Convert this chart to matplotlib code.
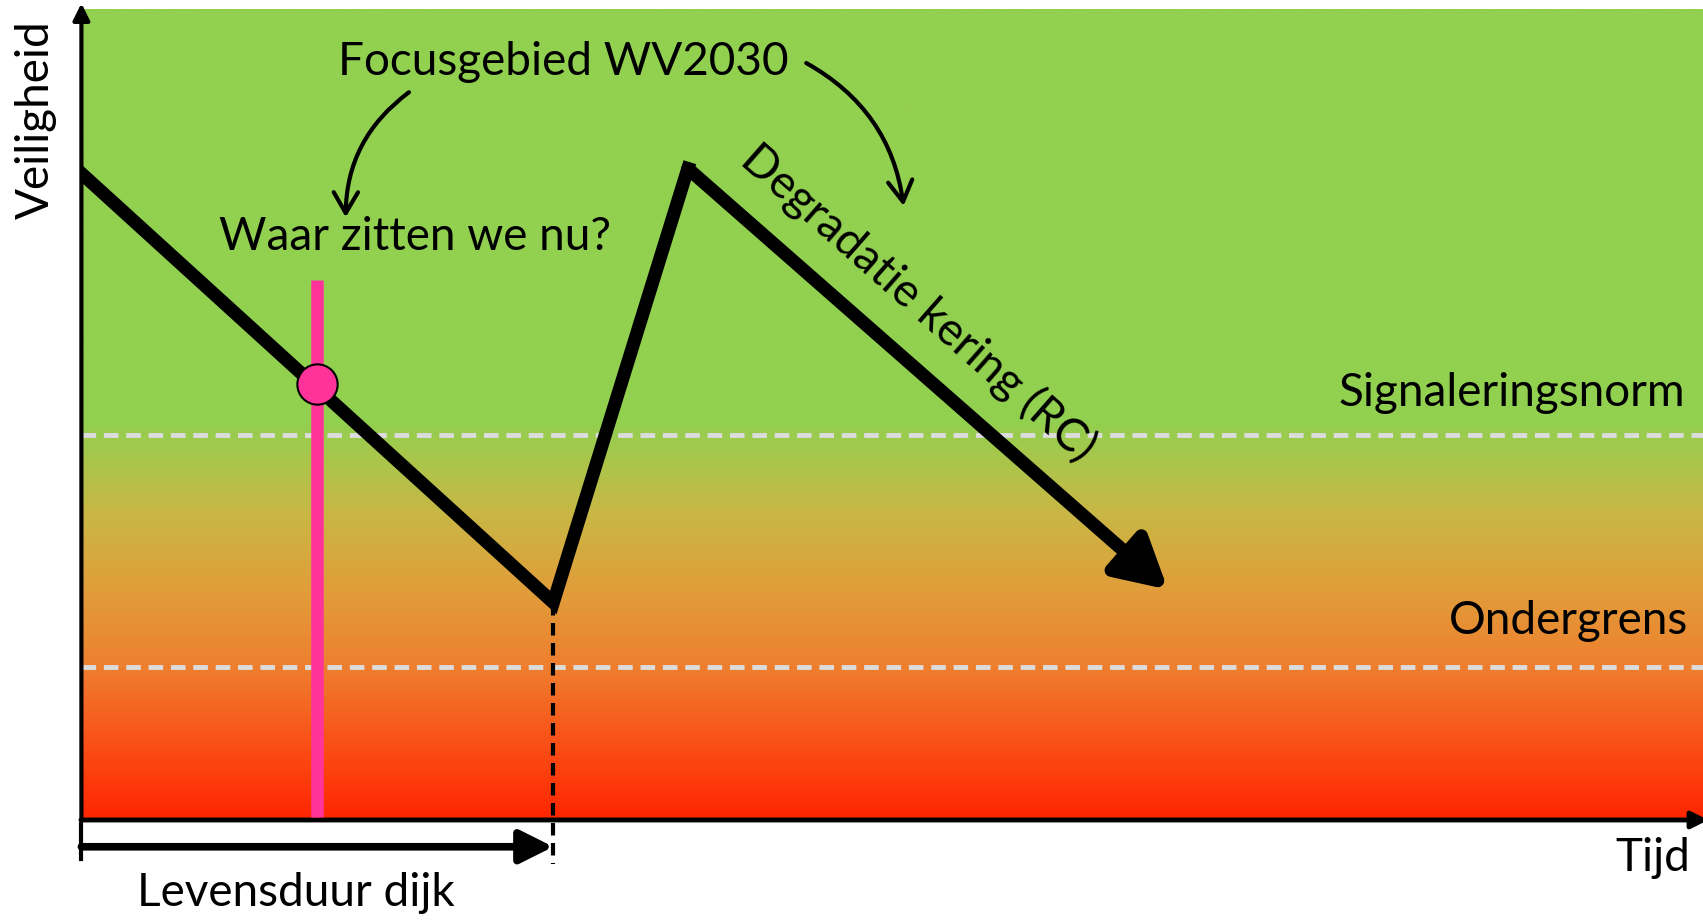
import numpy as np
import matplotlib.pyplot as plt
from matplotlib.colors import LinearSegmentedColormap

plt.rcParams['font.family'] = ['Lato', 'DejaVu Sans']

# levensloop van de kering (tijd, veiligheid) in 0-100 schaal
tijd = [0, 29.1, 37.4]
veiligheid = [79.7, 26.8, 80.3]
pijl_eind = (67.0, 28.4)

signaleringsnorm = 47.5
ondergrens = 18.9
nu_tijd = 14.5
nu_veiligheid = 53.8
levensduur = 29.1

# kleurverloop van rood (onder) naar groen (boven)
kleur_pos = [0.0, 0.08, 0.19, 0.28, 0.38, 0.49, 1.0]
kleuren = ['#ff2600', '#fb4a14', '#ee8030', '#e19d3a', '#c8b845', '#92d050', '#92d050']

fig = plt.figure(figsize=(17.03, 9.23), dpi=100)
ax = fig.add_axes([0.0478, 0.1116, 0.9522, 0.879])
ax.set_xlim(0, 100)
ax.set_ylim(0, 100)
ax.axis('off')

cmap = LinearSegmentedColormap.from_list('veilig', list(zip(kleur_pos, kleuren)))
grad = np.linspace(0, 1, 400).reshape(-1, 1)
ax.imshow(grad, extent=[0, 100, 0, 100], origin='lower', aspect='auto', cmap=cmap, zorder=0)

# normlijnen
for y in [signaleringsnorm, ondergrens]:
    ax.plot([0, 100], [y, y], color='#dcdcdc', lw=3.5, dashes=(3.0, 1.6), zorder=1)

# assen met pijlen
ax.annotate('', xy=(0, 101), xytext=(0, -0.3), annotation_clip=False,
            arrowprops=dict(arrowstyle='-|>', lw=3, color='black', mutation_scale=25))
ax.annotate('', xy=(100.5, 0), xytext=(-0.2, 0), annotation_clip=False,
            arrowprops=dict(arrowstyle='-|>', lw=3.5, color='black', mutation_scale=25))

# roze lijn + punt: waar zitten we nu
ax.plot([nu_tijd, nu_tijd], [0.4, 66.5], color='#ff3399', lw=9, solid_capstyle='butt', zorder=3)
ax.plot(nu_tijd, nu_veiligheid, 'o', ms=29, mfc='#ff3399', mec='black', mew=1.5, zorder=5)

# veiligheidslijn
ax.plot(tijd, veiligheid, color='black', lw=9.5, solid_joinstyle='miter', zorder=4)
ax.annotate('', xy=pijl_eind, xytext=(tijd[-1], veiligheid[-1]),
            arrowprops=dict(arrowstyle='-|>,head_length=1.0,head_width=0.55', lw=9.5,
                            color='black', mutation_scale=30, shrinkA=0, shrinkB=0,
                            joinstyle='round'), zorder=4)

# levensduur
ax.plot([levensduur, levensduur], [veiligheid[1], -5.4], color='black', lw=3,
        dashes=(3, 1.8), clip_on=False, zorder=4)
ax.annotate('', xy=(levensduur, -3.3), xytext=(0, -3.3), annotation_clip=False,
            arrowprops=dict(arrowstyle='-|>,head_length=0.8,head_width=0.4', lw=5.5,
                            color='black', mutation_scale=25, shrinkA=0, shrinkB=0))
ax.plot([0, 0], [-0.5, -4.8], color='black', lw=3, clip_on=False)

# gebogen pijlen
ax.annotate('', xy=(16.3, 74.3), xytext=(20.2, 89.7),
            arrowprops=dict(arrowstyle='->,head_length=0.6,head_width=0.35', lw=3,
                            color='black', mutation_scale=25,
                            connectionstyle='arc3,rad=0.25', shrinkA=0, shrinkB=0))
ax.annotate('', xy=(50.7, 75.7), xytext=(44.7, 93.3),
            arrowprops=dict(arrowstyle='->,head_length=0.6,head_width=0.35', lw=3,
                            color='black', mutation_scale=25,
                            connectionstyle='arc3,rad=-0.25', shrinkA=0, shrinkB=0))

fs = 33
ax.text(29.7, 93.4, 'Focusgebied WV2030', fontsize=fs, ha='center', va='center')
ax.text(20.6, 71.9, 'Waar zitten we nu?', fontsize=fs, ha='center', va='center')
ax.text(98.9, 52.6, 'Signaleringsnorm', fontsize=fs, ha='right', va='center')
ax.text(99.1, 24.5, 'Ondergrens', fontsize=fs, ha='right', va='center')
ax.text(51.6, 63.8, 'Degradatie kering (RC)', fontsize=fs, ha='center', va='center',
        rotation=-41.3, rotation_mode='anchor')
ax.text(96.9, -4.7, 'Tijd', fontsize=fs, ha='center', va='center', clip_on=False)
ax.text(13.2, -9.0, 'Levensduur dijk', fontsize=fs, ha='center', va='center', clip_on=False)
ax.text(-2.8, 86.3, 'Veiligheid', fontsize=fs, ha='center', va='center', rotation=90,
        clip_on=False)

fig.savefig('out.png', dpi=100)
